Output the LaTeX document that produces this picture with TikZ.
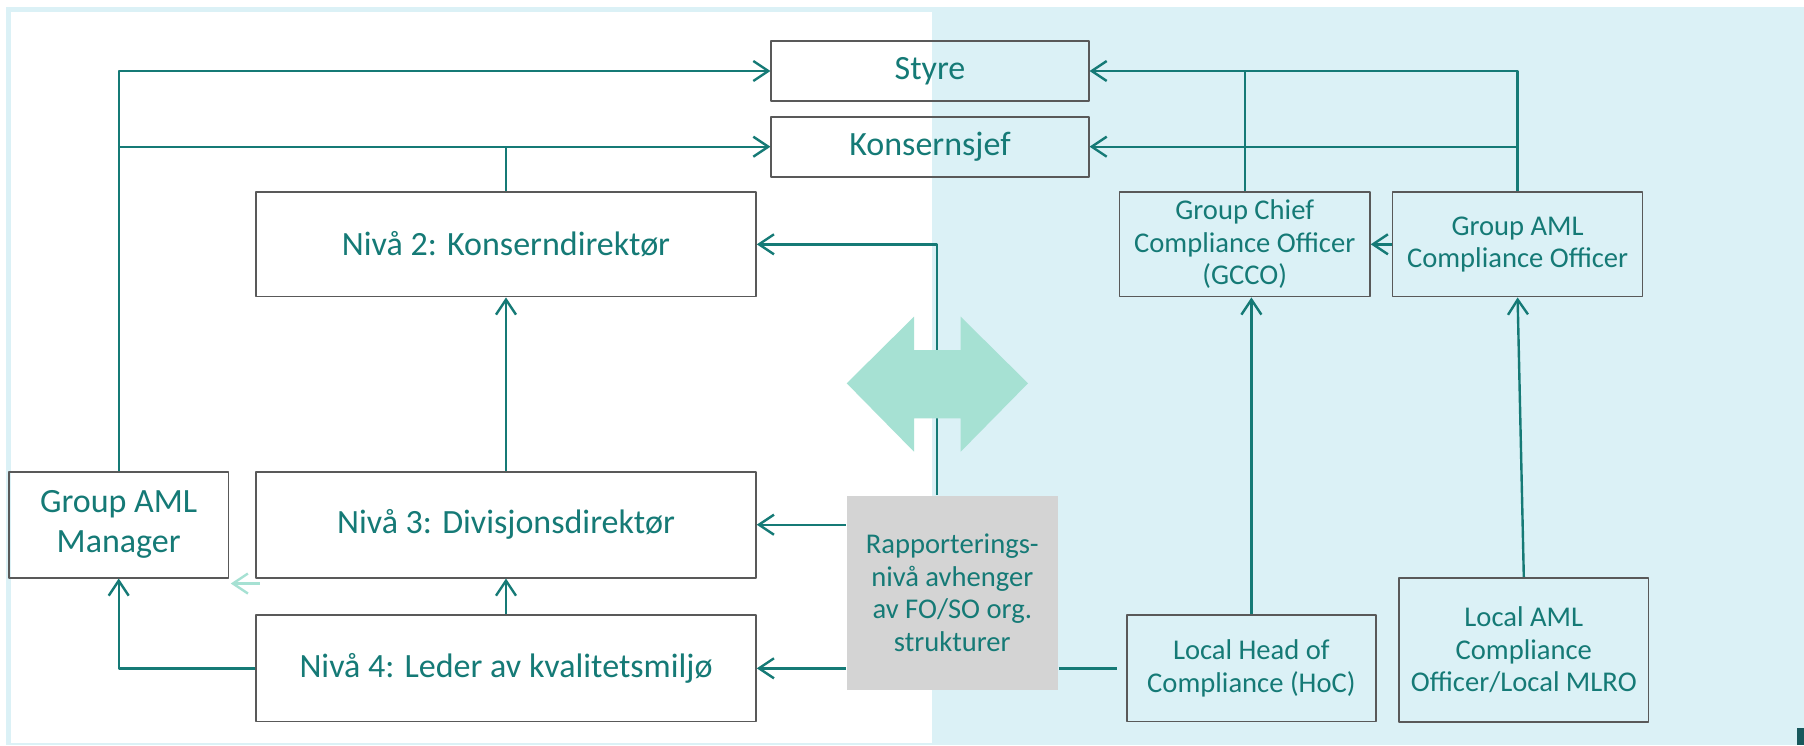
\documentclass[tikz,border=0pt]{standalone}
\usepackage{fontspec}
\setmainfont{Carlito}
\usepackage{tikz}
\usetikzlibrary{arrows.meta}

\definecolor{kteal}{RGB}{21,122,118}
\definecolor{panelblue}{RGB}{219,241,246}
\definecolor{mint}{RGB}{166,225,211}
\definecolor{greybox}{RGB}{212,212,212}
\definecolor{darkbar}{RGB}{24,88,92}

\tikzset{
  box/.style={draw=black!65,line width=1.6pt,text=kteal,align=center,inner sep=0pt,
    font=\fontsize{34}{40}\selectfont},
  small/.style={font=\fontsize{28.6}{32.5}\selectfont},
  link/.style={draw=kteal,line width=2.4pt},
  arr/.style={-{Straight Barb[length=15pt,width=20pt]}}
}

\begin{document}
\begin{tikzpicture}[x=1pt,y=-1pt,join=round] % org chart, pixel grid, y down
        \useasboundingbox (0,0) rectangle (1804,745);
        \fill[white] (0,0) rectangle (1804,745);
        \fill[panelblue] (6,7) rectangle (1804,745);
        \fill[white] (11,12) rectangle (932,743);
        \fill[darkbar] (1797,728) rectangle (1804,745);

        % left side
        \node[box,minimum width=317.5pt,minimum height=60.3pt] (styre) at (930,71) {Styre};
        \node[box,minimum width=317.5pt,minimum height=60pt] (konsernsjef) at (930,146.7) {Konsernsjef};
        \node[box,minimum width=500pt,minimum height=104.7pt] (niva2) at (506,244.3) {Nivå 2: Konserndirektør};
        \node[box,minimum width=500pt,minimum height=106pt] (niva3) at (506,524.7) {Nivå 3: Divisjonsdirektør};
        \node[box,minimum width=500pt,minimum height=106.7pt] (niva4) at (506,668.3) {Nivå 4: Leder av kvalitetsmiljø};
        \node[box,minimum width=219.5pt,minimum height=106pt] (amlmanager) at (118.7,524.7) {Group AML\\Manager};

        % right side
        \node[box,small,minimum width=250.5pt,minimum height=104.7pt] (gcco) at (1244.7,244.3) {Group Chief\\Compliance Officer\\(GCCO)};
        \node[box,small,minimum width=250pt,minimum height=104.7pt] (gamlco) at (1517.6,244.3) {Group AML\\Compliance Officer};
        \node[box,small,minimum width=249pt,minimum height=106.7pt] (hoc) at (1251.4,668.3) {Local Head of\\Compliance (HoC)};
        \node[box,small,minimum width=249.6pt,minimum height=144pt] (lamlco) at (1523.8,649.7) {Local AML\\Compliance\\Officer/Local MLRO};
        \node[box,small,draw=none,fill=greybox,minimum width=211.3pt,minimum height=194.3pt] (rapport) at (952.3,592.8) {Rapporterings-\\nivå avhenger\\av FO/SO org.\\strukturer};

        \draw[link,arr] (amlmanager.north) |- (styre.west);
        \draw[link,arr] (amlmanager.north |- konsernsjef.west) -- (konsernsjef.west);
        \draw[link] (niva2.north) -- (niva2.north |- konsernsjef.west);
        \draw[link,arr] (niva3.north) -- (niva2.south);
        \draw[link,arr] (niva4.north) -- (niva3.south);
        \draw[link,arr] (niva4.west) -| (amlmanager.south);
        \draw[link,arr] (rapport.west |- niva3.east) -- (niva3.east);
        \draw[link,arr] (rapport.west |- niva4.east) -- (niva4.east);
        \coordinate (riser) at ([xshift=-15.3pt]rapport.north);
        \draw[link,arr] (riser) |- (niva2.east);
        \draw[link,line width=3.5pt] (rapport.east |- hoc.west) -- ([xshift=-9pt]hoc.west);
        \draw[mint,line width=2.4pt,arr] ([shift={(30.5,5)}]amlmanager.south east) -- ([shift={(1.5,5)}]amlmanager.south east);

        \draw[link,arr] (gamlco.north) |- (styre.east);
        \draw[link] (gcco.north) -- (gcco.north |- styre.east);
        \draw[link,arr] (gamlco.north |- konsernsjef.east) -- (konsernsjef.east);
        \draw[link,arr] (gamlco.west) -- (gcco.east);
        \draw[link,arr] (hoc.north) -- (hoc.north |- gcco.south);
        \draw[link,arr] (lamlco.north) -- (gamlco.south);

        % two-way arrow over the riser
        \fill[mint] (846.7,383.3)--(914,316.7)--(914,350)--(960.7,350)--(960.7,316.7)--(1028,383.3)
                --(960.7,451.7)--(960.7,418.3)--(914,418.3)--(914,451.7)--cycle;
\end{tikzpicture}
\end{document}
